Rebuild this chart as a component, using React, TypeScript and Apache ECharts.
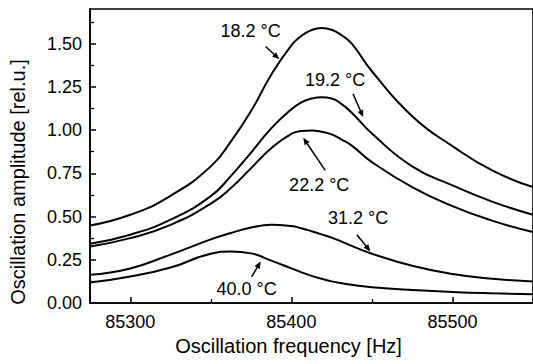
import React, { useEffect, useRef } from "react";
import * as echarts from "echarts";

// Oscillation frequency grid [Hz]
const freqs = [
  85275, 85300, 85325, 85350, 85362.5, 85375, 85387.5, 85400, 85406.25, 85412.5, 85418.75, 85425,
  85431.25, 85437.5, 85450, 85475, 85500, 85525, 85550,
];
// Oscillation amplitude [rel.u.] for each temperature
const amp182 = [0.448, 0.51, 0.62, 0.79, 0.935, 1.11, 1.32, 1.49, 1.545, 1.578, 1.59, 1.58, 1.548, 1.5, 1.34, 1.08, 0.907, 0.765, 0.67];
const amp192 = [0.343, 0.395, 0.482, 0.618, 0.735, 0.87, 1.01, 1.12, 1.16, 1.182, 1.19, 1.183, 1.15, 1.1, 0.98, 0.79, 0.68, 0.585, 0.51];
const amp222 = [0.327, 0.375, 0.452, 0.575, 0.665, 0.78, 0.895, 0.978, 0.994, 0.997, 0.99, 0.975, 0.945, 0.91, 0.815, 0.67, 0.56, 0.475, 0.41];
const amp312 = [0.163, 0.2, 0.28, 0.368, 0.405, 0.436, 0.453, 0.445, 0.432, 0.415, 0.397, 0.378, 0.355, 0.33, 0.285, 0.215, 0.168, 0.14, 0.124];
const amp400 = [0.118, 0.153, 0.205, 0.285, 0.298, 0.287, 0.245, 0.2, 0.177, 0.157, 0.14, 0.125, 0.114, 0.105, 0.091, 0.075, 0.064, 0.056, 0.05];

const seriesNames = ["18.2 °C", "19.2 °C", "22.2 °C", "31.2 °C", "40.0 °C"];
const seriesValues = [amp182, amp192, amp222, amp312, amp400];

const xTicks = [85300, 85400, 85500];
const xMinorTicks = [85350, 85450];
const yTicks = [0, 0.25, 0.5, 0.75, 1.0, 1.25, 1.5];
const yMinorTicks = [0.125, 0.375, 0.625, 0.875, 1.125, 1.375, 1.625];

// annotation label anchor and arrow (data coordinates)
const annotations = [
  { label: "18.2 °C", at: [85374.7, 1.57], from: [85384, 1.483], to: [85392.5, 1.41] },
  { label: "19.2 °C", at: [85427.2, 1.29], from: [85438.3, 1.209], to: [85444.6, 1.075] },
  { label: "22.2 °C", at: [85417.3, 0.68], from: [85421, 0.767], to: [85407.4, 0.955] },
  { label: "31.2 °C", at: [85441.4, 0.494], from: [85440.7, 0.395], to: [85449, 0.298] },
  { label: "40.0 °C", at: [85372.2, 0.081], from: [85375.3, 0.151], to: [85381, 0.24] },
];

const FONT = '"Liberation Sans", Arial, Helvetica, sans-serif';

export default function App() {
  const ref = useRef<HTMLDivElement>(null);
  useEffect(() => {
    if (!ref.current) return;
    const chart = echarts.init(ref.current, null, { renderer: "svg" });
    const axisLine = { show: true, lineStyle: { color: "#000", width: 1.6 } };
    const xBase = { type: "value", min: 85275, max: 85550, position: "bottom", splitLine: { show: false } };
    const yBase = { type: "value", min: 0, max: 1.7, position: "left", splitLine: { show: false } };
    chart.setOption({
      animation: false,
      grid: {
        left: 89,
        top: 9,
        right: -3,
        bottom: 61,
        show: true,
        borderColor: "#000",
        borderWidth: 1.6,
        backgroundColor: "transparent",
      },
      xAxis: [
        {
          ...xBase,
          axisLine,
          axisTick: { show: true, inside: true, length: 6, customValues: xTicks, lineStyle: { color: "#000", width: 1.5 } },
          axisLabel: {
            customValues: xTicks,
            color: "#000",
            fontSize: 18,
            fontFamily: FONT,
            margin: 10,
            formatter: (v: number) => String(v),
          },
          name: "Oscillation frequency [Hz]",
          nameLocation: "middle",
          nameGap: 33,
          nameTextStyle: { color: "#000", fontSize: 20, fontFamily: FONT, padding: [0, 46, 0, 0] },
        },
        {
          ...xBase,
          axisLine: { show: false },
          axisTick: { show: true, inside: true, length: 4, customValues: xMinorTicks, lineStyle: { color: "#000", width: 1.3 } },
          axisLabel: { show: false },
        },
      ],
      yAxis: [
        {
          ...yBase,
          axisLine,
          axisTick: { show: true, inside: true, length: 6, customValues: yTicks, lineStyle: { color: "#000", width: 1.5 } },
          axisLabel: {
            customValues: yTicks,
            color: "#000",
            fontSize: 18,
            fontFamily: FONT,
            margin: 8,
            formatter: (v: number) => v.toFixed(2),
          },
          name: "Oscillation amplitude [rel.u.]",
          nameLocation: "middle",
          nameGap: 62,
          nameRotate: 90,
          nameTextStyle: { color: "#000", fontSize: 20, fontFamily: FONT, padding: [0, 52, 0, 0] },
        },
        {
          ...yBase,
          axisLine: { show: false },
          axisTick: { show: true, inside: true, length: 4, customValues: yMinorTicks, lineStyle: { color: "#000", width: 1.3 } },
          axisLabel: { show: false },
        },
      ],
      series: seriesValues.map((vals, i) => ({
        name: seriesNames[i],
        type: "line",
        xAxisIndex: 0,
        yAxisIndex: 0,
        data: freqs.map((f, j) => [f, vals[j]]),
        smooth: 0.5,
        showSymbol: false,
        lineStyle: { color: "#000", width: 2 },
        silent: true,
      })),
    });

    const px = (p: number[]) => chart.convertToPixel({ xAxisIndex: 0, yAxisIndex: 0 }, p) as number[];
    const graphics: any[] = [];
    annotations.forEach((a) => {
      const c = px(a.at);
      graphics.push({
        type: "text",
        x: c[0],
        y: c[1],
        style: {
          text: a.label,
          fill: "#000",
          fontSize: 18,
          fontFamily: FONT,
          align: "center",
          verticalAlign: "middle",
        },
        z: 10,
      });
      const s = px(a.from);
      const t = px(a.to);
      const dx = t[0] - s[0];
      const dy = t[1] - s[1];
      const len = Math.sqrt(dx * dx + dy * dy) || 1;
      const ux = dx / len;
      const uy = dy / len;
      const L = 7;
      const W = 3;
      const bx = t[0] - ux * L;
      const by = t[1] - uy * L;
      graphics.push({
        type: "line",
        shape: { x1: s[0], y1: s[1], x2: bx + ux * 2, y2: by + uy * 2 },
        style: { stroke: "#000", lineWidth: 1.5 },
        z: 10,
      });
      graphics.push({
        type: "polygon",
        shape: {
          points: [
            [t[0], t[1]],
            [bx - uy * W, by + ux * W],
            [bx + uy * W, by - ux * W],
          ],
        },
        style: { fill: "#000" },
        z: 10,
      });
    });
    chart.setOption({ graphic: graphics });

    return () => chart.dispose();
  }, []);
  return (
    <div
      ref={ref}
      style={{ position: "absolute", left: 0, top: 0, width: 533, height: 364, background: "#fff" }}
    />
  );
}
